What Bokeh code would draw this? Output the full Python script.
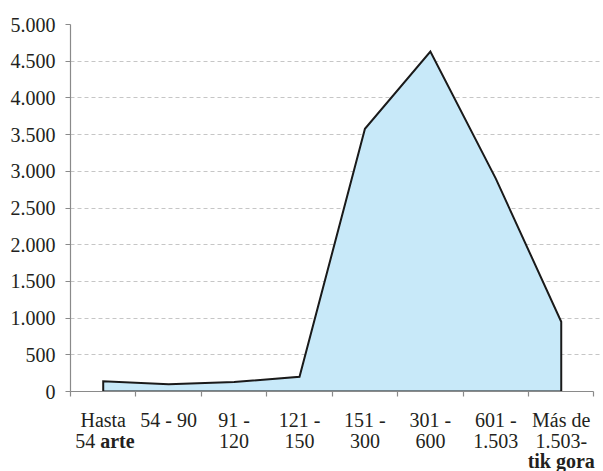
from bokeh.plotting import figure
from bokeh.layouts import column
from bokeh.models import Range1d, FixedTicker, ColumnDataSource
from bokeh.core.properties import value
from bokeh.embed import file_html
from bokeh.resources import INLINE

# ---- data ----
categories = ["Hasta 54 arte", "54 - 90", "91 - 120", "121 - 150",
              "151 - 300", "301 - 600", "601 - 1.503", "Más de 1.503-tik gora"]
values = [140, 100, 130, 200, 3580, 4630, 2900, 950]
y_ticks = [0, 500, 1000, 1500, 2000, 2500, 3000, 3500, 4000, 4500, 5000]
# category labels, line by line; each segment is (text, bold)
label_lines = [
    [[("Hasta", False)], [("54", False), ("arte", True)]],
    [[("54 - 90", False)]],
    [[("91 -", False)], [("120", False)]],
    [[("121 -", False)], [("150", False)]],
    [[("151 -", False)], [("300", False)]],
    [[("301 -", False)], [("600", False)]],
    [[("601 -", False)], [("1.503", False)]],
    [[("Más de", False)], [("1.503-", False)], [("tik gora", True)]],
]

FONT = "Liberation Serif"
FS = "20px"
TXT = "#231f20"
AXC = "#8a8a8a"

W = 603
LEFT, RIGHT, TOP, BOTTOM = 70, 3, 24, 12
FRAME_H = 367
H1 = TOP + FRAME_H + BOTTOM
H2 = 68

n = len(categories)
xc = [i + 0.5 for i in range(n)]
x_end = n + 0.1   # grid runs a little past the last category, as in the original

p = figure(width=W, height=H1,
           x_range=Range1d(0, x_end), y_range=Range1d(0, 5000),
           output_backend="svg", toolbar_location=None,
           min_border_left=LEFT, min_border_right=RIGHT,
           min_border_top=TOP, min_border_bottom=BOTTOM)
p.outline_line_color = None

# area
xs = [xc[0]] + xc + [xc[-1]]
ys = [0] + values + [0]
p.patch(xs, ys, fill_color="#c8e9f9", line_color="#1a1a1a", line_width=2,
        line_join="miter")

# axes
p.yaxis.ticker = FixedTicker(ticks=y_ticks)
p.yaxis.major_label_overrides = {t: f"{t:,}".replace(",", ".") for t in y_ticks}
# x: tick marks at category boundaries only; labels are drawn in the strip below
p.xaxis.ticker = FixedTicker(ticks=[], minor_ticks=list(range(n + 1)))
p.xaxis.bounds = (0, n)
for ax in (p.xaxis[0], p.yaxis[0]):
    ax.axis_line_color = AXC
    ax.axis_line_width = 1.2
    ax.major_tick_line_color = AXC
    ax.major_tick_line_width = 1.2
    ax.major_tick_out = 5
    ax.major_tick_in = 0
    ax.minor_tick_line_color = None
    ax.major_label_text_font = FONT
    ax.major_label_text_font_size = FS
    ax.major_label_text_color = TXT
p.xaxis.minor_tick_line_color = AXC
p.xaxis.minor_tick_line_width = 1.2
p.xaxis.minor_tick_out = 5
p.xaxis.minor_tick_in = 0
p.xaxis.major_label_standoff = 0
p.yaxis.major_label_standoff = 10

p.xgrid.visible = False
p.ygrid.grid_line_color = "#c6c6c6"
p.ygrid.grid_line_dash = "4 3"
p.ygrid.grid_line_width = 1

# ---- category labels: a strip below sharing the same category scale ----
p2 = figure(width=W, height=H2,
            x_range=p.x_range, y_range=Range1d(H2, 0),
            output_backend="svg", toolbar_location=None,
            x_axis_location=None, y_axis_location=None,
            min_border_left=LEFT, min_border_right=RIGHT,
            min_border_top=0, min_border_bottom=0)
p2.outline_line_color = None
p2.xgrid.visible = False
p2.ygrid.visible = False

baselines = [16, 37, 57]
gap_l, gap_r = -8, -3
cols = dict(x=[], y=[], text=[], align=[], style=[], dx=[])
for i, lines in enumerate(label_lines):
    for j, segs in enumerate(lines):
        if len(segs) == 1:
            t, b = segs[0]
            cols["x"].append(xc[i]); cols["y"].append(baselines[j])
            cols["text"].append(t); cols["align"].append("center")
            cols["style"].append("bold" if b else "normal"); cols["dx"].append(0)
        else:
            (t1, b1), (t2, b2) = segs
            cols["x"].append(xc[i]); cols["y"].append(baselines[j])
            cols["text"].append(t1); cols["align"].append("right")
            cols["style"].append("bold" if b1 else "normal"); cols["dx"].append(gap_l)
            cols["x"].append(xc[i]); cols["y"].append(baselines[j])
            cols["text"].append(t2); cols["align"].append("left")
            cols["style"].append("bold" if b2 else "normal"); cols["dx"].append(gap_r)
src = ColumnDataSource(cols)
p2.text(x="x", y="y", text="text", source=src, text_align="align",
        text_font_style="style", x_offset="dx", text_baseline="alphabetic",
        text_font=value(FONT), text_font_size=value(FS), text_color=TXT)

layout = column(p, p2, spacing=0)
open("out.html", "w").write(file_html(layout, INLINE))
